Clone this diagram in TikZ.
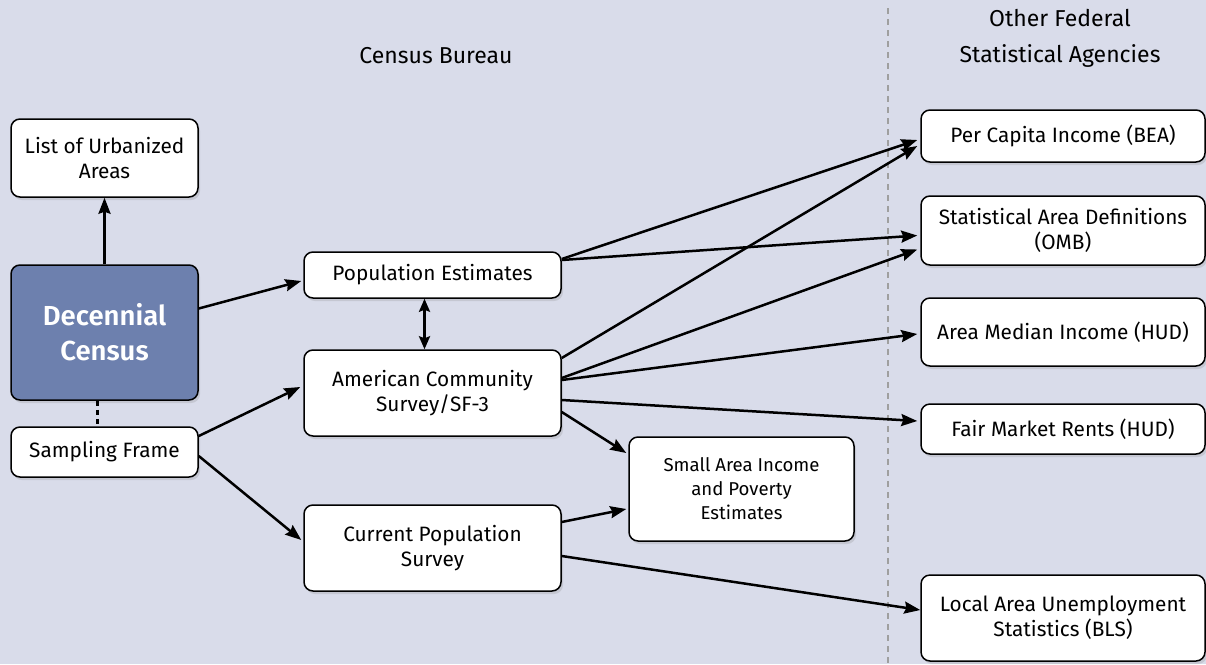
\documentclass[tikz,border=0pt]{standalone}
\usepackage{fontspec}
\setmainfont{Fira Sans}[BoldFont=* SemiBold]
\usetikzlibrary{arrows.meta,shadows}

\definecolor{bgblue}{HTML}{D9DCEA}
\definecolor{censusblue}{HTML}{6D80AE}

\tikzset{
    box/.style={draw=black, line width=1.5pt, fill=white, rounded corners=9pt,
        align=center, inner sep=2pt, font=\fontsize{20.8}{25}\selectfont,
        drop shadow={opacity=0.22, shadow xshift=2pt, shadow yshift=-3pt}},
    link/.style={line width=2.5pt, -{Stealth[length=16pt,width=12pt,inset=2pt]}},
    heading/.style={align=center, font=\fontsize{23}{36}\selectfont}
}

\begin{document}
\begin{tikzpicture}[x=1pt,y=-1pt]
    \useasboundingbox (0,0) rectangle (1206,664);
    \fill[bgblue] (0,0) rectangle (1206,664);
    \draw[gray!75, line width=2pt, dash pattern=on 6pt off 5pt] (888,8) -- (888,664);

    % headings
    \node[heading] (bureau) at (436,56) {Census Bureau};
    \node[heading] (agencies) at (1060,38) {Other Federal\\Statistical Agencies};

    % census bureau column
    \node[box, minimum width=187pt, minimum height=78pt] (urban) at (104.5,158)
        {List of Urbanized\\Areas};
    \node[box, fill=censusblue, text=white, minimum width=187pt, minimum height=135pt,
        font=\fontsize{27.5}{35}\selectfont\bfseries] (decennial) at (104.5,332.5)
        {Decennial\\Census};
    \node[box, minimum width=187pt, minimum height=50pt] (frame) at (104.5,452)
        {Sampling Frame};
    \node[box, minimum width=257pt, minimum height=46pt] (popest) at (432.5,275)
        {Population Estimates};
    \node[box, minimum width=257pt, minimum height=86pt] (acs) at (432.5,393)
        {American Community\\Survey/SF-3};
    \node[box, minimum width=257pt, minimum height=86pt] (cps) at (432.5,548)
        {Current Population\\Survey};
    \node[box, minimum width=225pt, minimum height=104pt,
        font=\fontsize{18.6}{24}\selectfont] (saipe) at (741.5,489)
        {Small Area Income\\and Poverty\\Estimates};

    % other agencies column
    \node[box, minimum width=284pt, minimum height=52pt] (percap) at (1063,136)
        {Per Capita Income (BEA)};
    \node[box, minimum width=284pt, minimum height=69pt] (omb) at (1063,230.5)
        {Statistical Area Definitions\\(OMB)};
    \node[box, minimum width=284pt, minimum height=68pt] (hud) at (1063,332)
        {Area Median Income (HUD)};
    \node[box, minimum width=284pt, minimum height=50pt] (fmr) at (1063,429)
        {Fair Market Rents (HUD)};
    \node[box, minimum width=284pt, minimum height=86pt] (laus) at (1063,618)
        {Local Area Unemployment\\Statistics (BLS)};

    % connectors
    \draw[link] (decennial.north) -- (urban.south);
    \draw[line width=2.5pt, dash pattern=on 5pt off 4pt] ([xshift=-7pt]decennial.south)
        -- ([xshift=-7pt]frame.north);
    \draw[link] ([yshift=24pt]decennial.east) -- ([yshift=-6pt,xshift=-2pt]popest.west);
    \draw[link] ([yshift=16pt]frame.east) -- ([yshift=6pt,xshift=-3pt]acs.west);
    \draw[link] ([yshift=-4pt]frame.east) -- ([yshift=8pt,xshift=-2pt]cps.west);
    \draw[link, {Stealth[length=13pt,width=11pt,inset=2pt]}-{Stealth[length=13pt,width=11pt,inset=2pt]}]
        ([xshift=-8pt]popest.south) -- ([xshift=-8pt]acs.north);

    \draw[link] ([yshift=16pt]popest.east) -- ([yshift=-4pt,xshift=-3pt]percap.west);
    \draw[link] ([yshift=15pt]popest.east) -- ([yshift=-5pt,xshift=-3pt]omb.west);
    \draw[link] ([yshift=35pt]acs.east) -- ([yshift=-10pt,xshift=-3pt]percap.west);
    \draw[link] ([yshift=15pt]acs.east) -- ([yshift=-19pt,xshift=-3pt]omb.west);
    \draw[link] ([yshift=13pt]acs.east) -- ([yshift=-2pt,xshift=-3pt]hud.west);
    \draw[link] ([yshift=-7pt]acs.east) -- ([yshift=8pt,xshift=-3pt]fmr.west);
    \draw[link] ([yshift=-19pt]acs.east) -- ([yshift=36pt,xshift=-2pt]saipe.west);
    \draw[link] ([yshift=26pt]cps.east) -- ([yshift=-20pt,xshift=-2pt]saipe.west);
    \draw[link] ([yshift=-8pt]cps.east) -- ([yshift=8pt]laus.west);
\end{tikzpicture}
\end{document}
